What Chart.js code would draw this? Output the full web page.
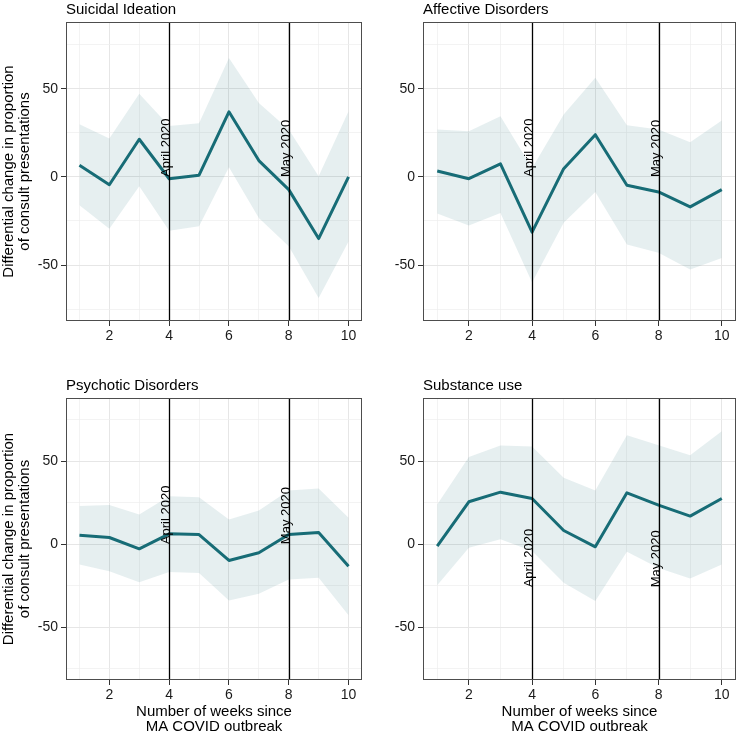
<!DOCTYPE html>
<html>
<head>
<meta charset="utf-8">
<script src="https://cdn.jsdelivr.net/npm/chart.js@4.4.1/dist/chart.umd.min.js"></script>
<style>
  body { margin: 0; background: #fff; }
  #wrap { position: relative; width: 738px; height: 734px; }
  canvas { position: absolute; }
</style>
</head>
<body>
<div id="wrap">
  <canvas id="suicidalChart" width="369" height="345" style="left:0;top:0"></canvas>
  <canvas id="affectiveChart" width="369" height="345" style="left:369px;top:0"></canvas>
  <canvas id="psychoticChart" width="369" height="367" style="left:0;top:367px"></canvas>
  <canvas id="substanceChart" width="369" height="367" style="left:369px;top:367px"></canvas>
</div>
<script>
// Weeks since the outbreak and axis ticks
const weeks = [1, 2, 3, 4, 5, 6, 7, 8, 9, 10];
const yTicks = [-75, -50, -25, 0, 25, 50, 75];
const eventWeeks = [4, 8];
const eventLabels = ['April 2020', 'May 2020'];

// Suicidal ideation: estimate and 95% band
const suicidalEst = [6.6, -4.4, 21.4, -1, 1, 37, 9.3, -7.2, -35, 0];
const suicidalHi = [30, 21.8, 47.3, 29, 30.5, 67.6, 42, 27, 0.4, 37.3];
const suicidalLo = [-16, -29.4, -5.3, -30.5, -28, 5.5, -23.3, -39.4, -68.8, -36.6];

// Affective disorders
const affectiveEst = [3.4, -1, 7.4, -31.3, 4.7, 24, -4.7, -8.5, -17, -7.2];
const affectiveHi = [27, 26, 34.5, 5, 35.4, 56.3, 29.4, 27, 19.7, 32];
const affectiveLo = [-20.8, -27.5, -20.5, -60, -26, -8.5, -38.4, -43, -52.6, -46];

// Psychotic disorders
const psychoticEst = [5.4, 4, -2.8, 6.2, 5.8, -9.8, -5.2, 5.8, 7, -13.3];
const psychoticHi = [22.9, 23.5, 17.9, 28.9, 28.3, 14.9, 20.3, 32.3, 33.5, 15.9];
const psychoticLo = [-12.2, -16.3, -22.9, -16.7, -17.3, -34, -29.9, -21.3, -20.3, -42.8];

// Substance use
const substanceEst = [-1.2, 25.5, 31.3, 27.5, 8.2, -1.6, 30.9, 23.5, 16.9, 27.5];
const substanceHi = [23.9, 52.4, 59.4, 58.8, 40, 32.3, 65.5, 59.6, 53.6, 68];
const substanceLo = [-24.7, -2.2, 3, -4.2, -23.3, -34.3, -4.6, -14.3, -20.7, -12.2];

const fontFamily = "'Liberation Sans', Arial, Helvetica, sans-serif";
const lineColor = 'rgb(23, 108, 118)';
const bandColor = 'rgba(23, 108, 118, 0.11)';

Chart.defaults.font.family = fontFamily;

// Panel box, titles, event lines and their labels
const panelDecor = {
    id: 'panelDecor',
    afterDatasetsDraw(chart, args, opts) {
        const { ctx, chartArea: a, scales: { x, y } } = chart;
        ctx.save();
        eventWeeks.forEach((w, i) => {
            const px = Math.round(x.getPixelForValue(w)) + 0.5;
            ctx.strokeStyle = '#000';
            ctx.lineWidth = 1.3;
            ctx.beginPath();
            ctx.moveTo(px, a.top);
            ctx.lineTo(px, a.bottom);
            ctx.stroke();

            ctx.save();
            ctx.translate(px, y.getPixelForValue(opts.labelY));
            ctx.rotate(-Math.PI / 2);
            ctx.font = '13px ' + fontFamily;
            ctx.fillStyle = '#000';
            ctx.textAlign = 'left';
            ctx.textBaseline = 'alphabetic';
            ctx.fillText(eventLabels[i], 0, 0);
            ctx.restore();
        });
        ctx.restore();
    },
    afterDraw(chart, args, opts) {
        const { ctx, chartArea: a } = chart;
        ctx.save();
        ctx.strokeStyle = '#4d4d4d';
        ctx.lineWidth = 1;
        ctx.strokeRect(a.left + 0.5, a.top + 0.5, a.right - a.left - 1, a.bottom - a.top - 1);

        ctx.fillStyle = '#000';
        ctx.font = '15px ' + fontFamily;
        ctx.textAlign = 'left';
        ctx.textBaseline = 'alphabetic';
        ctx.fillText(opts.title, a.left, a.top - 8);

        if (opts.yTitle) {
            const cy = (a.top + a.bottom) / 2;
            ctx.save();
            ctx.translate(0, cy);
            ctx.rotate(-Math.PI / 2);
            ctx.textAlign = 'center';
            ctx.textBaseline = 'middle';
            ctx.fillText('Differential change in proportion', 0, 9);
            ctx.fillText('of consult presentations', 0, 25);
            ctx.restore();
        }
        if (opts.xTitle) {
            const cx = (a.left + a.right) / 2;
            ctx.textAlign = 'center';
            ctx.textBaseline = 'middle';
            ctx.fillText('Number of weeks since', cx, a.bottom + 32);
            ctx.fillText('MA COVID outbreak', cx, a.bottom + 47);
        }
        ctx.restore();
    }
};

function makePanel(id, title, est, hi, lo, o) {
    const ctx = document.getElementById(id).getContext('2d');
    return new Chart(ctx, {
        type: 'line',
        data: {
            labels: weeks,
            datasets: [
                {
                    data: weeks.map((w, i) => ({ x: w, y: est[i] })),
                    borderColor: lineColor,
                    borderWidth: 3,
                    borderJoinStyle: 'round',
                    pointRadius: 0,
                    tension: 0,
                    fill: false
                },
                {
                    data: weeks.map((w, i) => ({ x: w, y: hi[i] })),
                    borderWidth: 0,
                    pointRadius: 0,
                    tension: 0,
                    fill: false
                },
                {
                    data: weeks.map((w, i) => ({ x: w, y: lo[i] })),
                    borderWidth: 0,
                    pointRadius: 0,
                    tension: 0,
                    backgroundColor: bandColor,
                    fill: '-1'
                }
            ]
        },
        options: {
            responsive: false,
            animation: false,
            devicePixelRatio: 1,
            layout: { padding: { top: o.top, right: o.right, left: 0, bottom: 0 } },
            plugins: {
                legend: { display: false },
                tooltip: { enabled: false },
                panelDecor: { title: title, labelY: o.labelY, yTitle: o.yTitle, xTitle: o.xTitle }
            },
            scales: {
                x: {
                    type: 'linear',
                    min: 0.55,
                    max: 10.45,
                    afterBuildTicks: s => { s.ticks = weeks.map(v => ({ value: v })); },
                    afterFit: s => { s.height = o.xHeight; },
                    ticks: {
                        autoSkip: false,
                        maxRotation: 0,
                        padding: 2,
                        color: '#1a1a1a',
                        font: { size: 14 },
                        callback: v => (v % 2 === 0 ? String(v) : '')
                    },
                    grid: {
                        color: c => (c.tick && c.tick.value % 2 === 0 ? '#e6e6e6' : '#eeeeee'),
                        lineWidth: c => (c.tick && c.tick.value % 2 === 0 ? 1 : 0.7),
                        tickLength: 5,
                        tickColor: c => (c.tick && c.tick.value % 2 === 0 ? '#333' : 'rgba(0,0,0,0)')
                    },
                    border: { display: false }
                },
                y: {
                    min: -81.8,
                    max: 88,
                    afterBuildTicks: s => { s.ticks = yTicks.map(v => ({ value: v })); },
                    afterFit: s => { s.width = o.yWidth; },
                    ticks: {
                        padding: 3,
                        color: '#1a1a1a',
                        font: { size: 14 },
                        callback: v => (v % 50 === 0 ? String(v) : '')
                    },
                    grid: {
                        color: c => (c.tick && c.tick.value % 50 === 0 ? '#e6e6e6' : '#eeeeee'),
                        lineWidth: c => (c.tick && c.tick.value % 50 === 0 ? 1 : 0.7),
                        tickLength: 5,
                        tickColor: c => (c.tick && c.tick.value % 50 === 0 ? '#333' : 'rgba(0,0,0,0)')
                    },
                    border: { display: false }
                }
            }
        },
        plugins: [panelDecor]
    });
}

makePanel('suicidalChart', 'Suicidal Ideation', suicidalEst, suicidalHi, suicidalLo,
    { top: 22, right: 7, yWidth: 66, xHeight: 24, labelY: 0, yTitle: true, xTitle: false });
makePanel('affectiveChart', 'Affective Disorders', affectiveEst, affectiveHi, affectiveLo,
    { top: 22, right: 2, yWidth: 54, xHeight: 24, labelY: 0, yTitle: false, xTitle: false });
makePanel('psychoticChart', 'Psychotic Disorders', psychoticEst, psychoticHi, psychoticLo,
    { top: 31, right: 7, yWidth: 66, xHeight: 54, labelY: 0, yTitle: true, xTitle: true });
makePanel('substanceChart', 'Substance use', substanceEst, substanceHi, substanceLo,
    { top: 31, right: 2, yWidth: 54, xHeight: 54, labelY: -26, yTitle: false, xTitle: true });
</script>
</body>
</html>
